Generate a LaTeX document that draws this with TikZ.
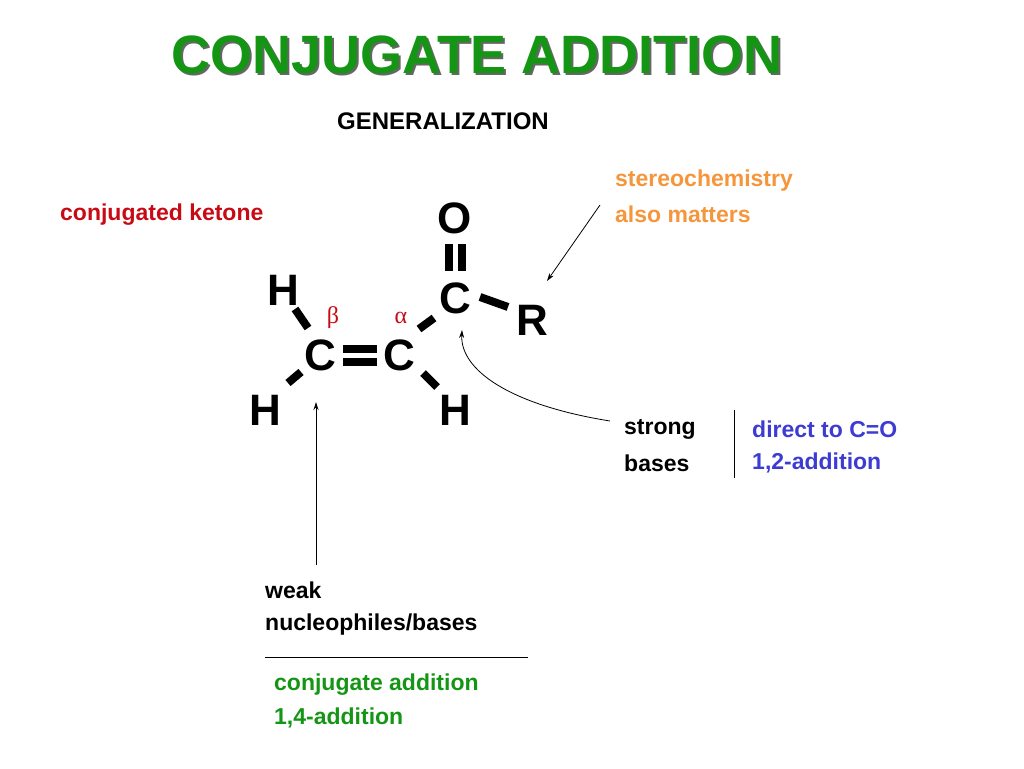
\documentclass[tikz,border=0pt]{standalone}
\usepackage{fontspec}
\usetikzlibrary{arrows.meta}
\setmainfont{Liberation Sans}
\newfontfamily\greekfont{Liberation Serif}
\begin{document}
\begin{tikzpicture}[x=1pt,y=-1pt,
  txt/.style={anchor=west,font=\bfseries\fontsize{23}{27}\selectfont,inner sep=0pt},
  atom/.style={font=\bfseries\fontsize{44}{48}\selectfont,inner sep=0pt},
  bond/.style={line width=8pt},
  arr/.style={-{Stealth[length=8pt,width=5pt]},line width=0.8pt}]
\definecolor{tgreen}{RGB}{20,150,20}
\definecolor{kred}{RGB}{200,10,20}
\definecolor{sorange}{RGB}{245,150,60}
\definecolor{dblue}{RGB}{60,60,210}
\useasboundingbox (0,0) rectangle (1024,768);
\node[font=\bfseries\fontsize{54}{58}\selectfont,text=black!60,inner sep=0pt] (ts) at (479,57) {CONJUGATE ADDITION};
\node[font=\bfseries\fontsize{54}{58}\selectfont,text=tgreen,inner sep=0pt] (title) at (477,55) {CONJUGATE ADDITION};
\node[font=\bfseries\fontsize{24}{28}\selectfont,inner sep=0pt] (gen) at (443,121) {GENERALIZATION};
\node[txt,text=kred] (ck) at (60,215) {conjugated ketone};
\node[atom] (O) at (455,218) {O};
\node[atom] (C1) at (455,298) {C};
\node[atom] (R) at (532,320) {R};
\node[atom] (H1) at (283,290) {H};
\node[atom] (Cb) at (320,355) {C};
\node[atom] (Ca) at (399,355) {C};
\node[atom] (H2) at (265,410) {H};
\node[atom] (H3) at (455,410) {H};
\node[text=kred,font=\greekfont\fontsize{24}{26}\selectfont,inner sep=0pt] (beta) at (333,318) {β};
\node[text=kred,font=\greekfont\fontsize{24}{26}\selectfont,inner sep=0pt] (alpha) at (401,318) {α};
\draw[bond] (343,349) -- (377,349) (343,362) -- (377,362);
\draw[bond] (449,244) -- (449,271) (462,244) -- (462,271);
\draw[bond] (295,309) -- (308,328);
\draw[bond] (288,383) -- (301,372);
\draw[bond] (419,329) -- (434,318);
\draw[bond] (423,373) -- (437,387);
\draw[bond] (480,297) -- (508,307);
\node[txt,text=sorange] (st1) at (615,181) {stereochemistry};
\node[txt,text=sorange] (st2) at (615,214) {also matters};
\coordinate (sa) at (600,205);
\coordinate (sb) at (547,281);
\draw[arr] (sa) -- (sb);
\node[txt] (s1) at (624,429) {strong};
\node[txt] (s2) at (624,463) {bases};
\coordinate (v1) at (734,410); \coordinate (v2) at (734,478);
\draw[line width=0.8pt] (v1) -- (v2);
\node[txt,text=dblue] (d1) at (752,429) {direct to C=O};
\node[txt,text=dblue] (d2) at (752,463) {1,2-addition};
\coordinate (ca) at (610,421);
\coordinate (cb) at (462,330);
\draw[arr] (ca) .. controls (510,405) and (460,370) .. (cb);
\coordinate (wa) at (316,565);
\coordinate (wb) at (316,402);
\draw[arr] (wa) -- (wb);
\node[txt] (w1) at (265,590) {weak};
\node[txt] (w2) at (265,625) {nucleophiles/bases};
\coordinate (h1) at (265,657); \coordinate (h2) at (528,657);
\draw[line width=0.8pt] (h1) -- (h2);
\node[txt,text=tgreen] (g1) at (274,685) {conjugate addition};
\node[txt,text=tgreen] (g2) at (274,718) {1,4-addition};
\end{tikzpicture}
\end{document}
